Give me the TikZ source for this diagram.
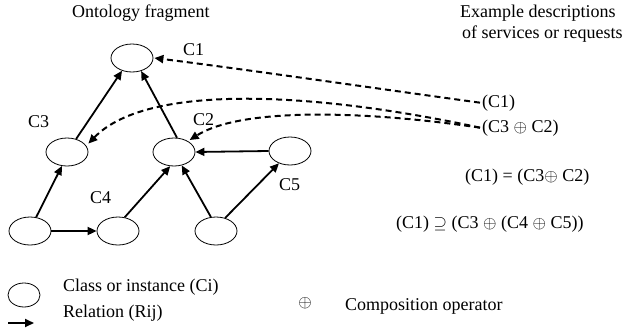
\documentclass[tikz,border=0pt]{standalone}
\usepackage{fontspec}
\setmainfont{Liberation Serif}
\usetikzlibrary{arrows.meta,shapes.geometric}
\begin{document}
\begin{tikzpicture}[x=1pt,y=-1pt,
  every node/.style={font=\fontsize{18}{20}\selectfont, inner sep=0pt},
  cls/.style={draw, line width=0.8pt, ellipse, minimum width=42pt, minimum height=28pt},
  rel/.style={line width=1.8pt, -{Triangle[length=9pt,width=8pt]}},
  ref/.style={line width=2pt, dash pattern=on 6pt off 4pt, -{Triangle[length=9pt,width=8pt]}},
  lbl/.style={anchor=base west}]
\useasboundingbox (0,0) rectangle (624,332);

% headings
\node[lbl] (h1) at (72,17) {Ontology fragment};
\node[lbl] (h2) at (460,17) {Example descriptions};
\node[lbl] (h3) at (462,38) {of services or requests};

% ontology classes
\node[cls] (c1) at (132,58) {};
\node[cls] (c3) at (67,152) {};
\node[cls] (c2) at (174,152) {};
\node[cls] (c5) at (290,151) {};
\node[cls] (b1) at (30,231) {};
\node[cls] (b2) at (118,231) {};
\node[cls] (b3) at (216,231) {};

% class labels
\node[lbl] (l1) at (183,55) {C1};
\node[lbl] (l3) at (28,127) {C3};
\node[lbl] (l2) at (193,125) {C2};
\node[lbl] (l4) at (90,203) {C4};
\node[lbl] (l5) at (279,190) {C5};

% relations
\draw[rel] (c3.55) -- (c1.232);
\draw[rel] (c2.78) -- (c1.305);
\draw[rel] (c5.west) -- (c2.east);
\draw[rel] (b1.66) -- (c3.250);
\draw[rel] (b2.64) -- (c2.255);
\draw[rel] (b3.110) -- (c2.300);
\draw[rel] (b3.55) -- (c5.228);
\draw[rel] (b1.east) -- (b2.west);

% descriptions
\node[lbl] (d1) at (482,107) {(C1)};
\node[lbl] (d2) at (482,132) {(C3 $\oplus$ C2)};
\node[lbl] (e1) at (465,181) {(C1) = (C3$\oplus$ C2)};
\node[lbl] (e2) at (396,228) {(C1) $\supseteq$ (C3 $\oplus$ (C4 $\oplus$ C5))};

% description references
\draw[ref] ([xshift=-2pt]d1.west) .. controls (380,89) and (250,70) .. ([xshift=1pt]c1.east);
\draw[ref, shorten >=3pt] ([xshift=-2pt]d2.west) .. controls (330,95) and (150,80) .. (c3.18);
\draw[ref, shorten >=2pt] ([xshift=-2pt]d2.west) .. controls (360,110) and (240,108) .. (c2.38);

% legend
\node[draw, line width=0.8pt, ellipse, minimum width=32pt, minimum height=24pt] (k1) at (24,295) {};
\node[lbl] (t1) at (63,291) {Class or instance (Ci)};
\coordinate (a0) at (8,323);
\coordinate (a1) at (34,323);
\draw[rel] (a0) -- (a1);
\node[lbl] (t2) at (63,317) {Relation (Rij)};
\node (op) at (305,303) {$\oplus$};
\node[lbl] (t3) at (345,310) {Composition operator};
\end{tikzpicture}
\end{document}
